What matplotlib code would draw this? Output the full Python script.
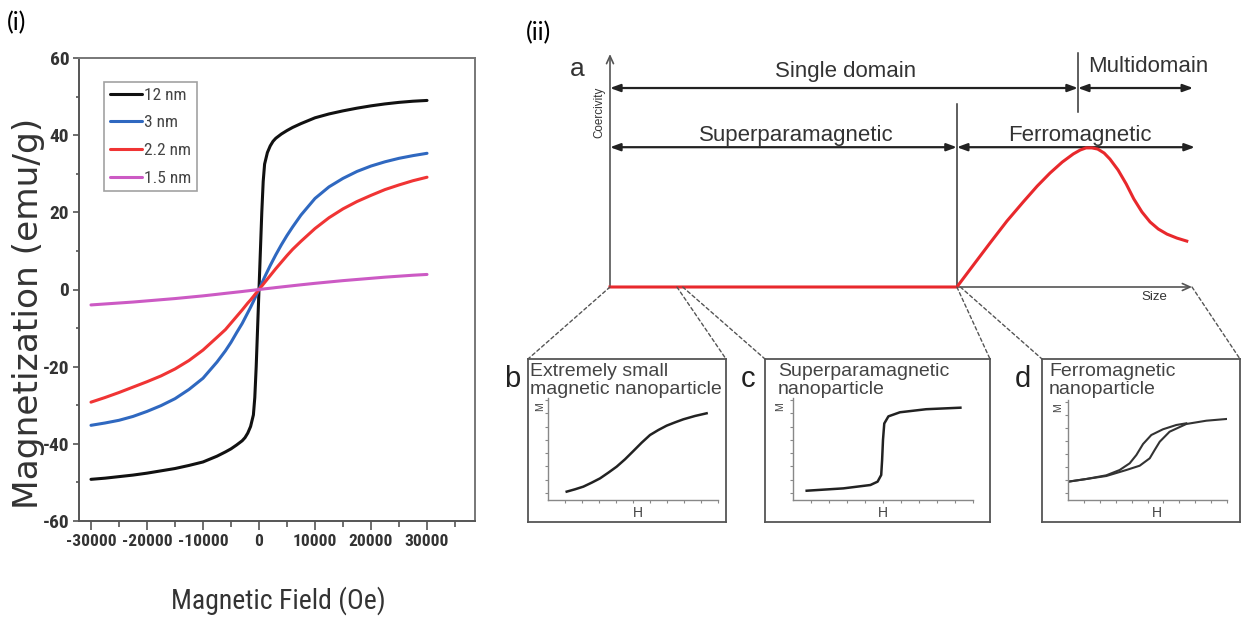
import numpy as np
import matplotlib
matplotlib.use("Agg")
import matplotlib.pyplot as plt
from matplotlib import font_manager as fm
from matplotlib.font_manager import FontProperties
from matplotlib.textpath import TextPath
from matplotlib.patches import ConnectionPatch
from matplotlib.ticker import MultipleLocator

plt.rcParams["axes.unicode_minus"] = False

# ---------------- (i) magnetization vs field ----------------
field_oe = [-30000, -27500, -25000, -22500, -20000, -17500, -15000, -12500, -10000,
            -7500, -6000, -5000, -4000, -3000, -2500, -2000, -1500, -1000, -750, -500,
            -250, 0, 250, 500, 750, 1000, 1500, 2000, 2500, 3000, 4000, 5000, 6000,
            7500, 10000, 12500, 15000, 17500, 20000, 22500, 25000, 27500, 30000]
m_12nm = [-49.2, -48.9, -48.5, -48.1, -47.6, -47.0, -46.4, -45.6, -44.7,
          -43.2, -42.1, -41.3, -40.3, -39.2, -38.4, -37.2, -35.5, -32.5, -28.0, -20.0,
          -10.0, 0.0, 10.0, 20.0, 28.0, 32.5, 35.5, 37.2, 38.4, 39.2, 40.3, 41.2, 42.0,
          43.0, 44.5, 45.5, 46.3, 47.0, 47.6, 48.1, 48.5, 48.8, 49.0]
m_3nm = [-35.2, -34.6, -33.9, -32.9, -31.6, -30.1, -28.3, -25.9, -23.0,
         -18.8, -15.9, -13.7, -11.2, -8.8, -7.4, -6.0, -4.6, -3.1, -2.3, -1.5,
         -0.8, 0.0, 0.8, 1.6, 2.4, 3.2, 4.7, 6.2, 7.6, 9.0, 11.6, 14.0, 16.2,
         19.3, 23.6, 26.6, 28.8, 30.6, 32.0, 33.1, 34.0, 34.7, 35.3]
m_2p2nm = [-29.2, -28.0, -26.7, -25.3, -23.9, -22.4, -20.6, -18.4, -15.7,
           -12.4, -10.4, -8.7, -7.0, -5.3, -4.4, -3.5, -2.7, -1.8, -1.35, -0.9,
           -0.45, 0.0, 0.45, 0.9, 1.35, 1.8, 2.7, 3.6, 4.5, 5.4, 7.1, 8.8, 10.4,
           12.5, 15.8, 18.6, 20.9, 22.8, 24.4, 25.9, 27.1, 28.2, 29.1]
m_1p5nm = [-4.0, -3.75, -3.5, -3.25, -2.95, -2.65, -2.35, -2.0, -1.65,
           -1.25, -1.0, -0.84, -0.68, -0.52, -0.43, -0.35, -0.26, -0.18, -0.13, -0.09,
           -0.04, 0.0, 0.04, 0.08, 0.12, 0.17, 0.25, 0.33, 0.41, 0.5, 0.66, 0.82, 0.98,
           1.22, 1.6, 1.95, 2.3, 2.6, 2.9, 3.2, 3.45, 3.7, 3.9]
series_labels = ["12 nm", "3 nm", "2.2 nm", "1.5 nm"]
series_colors = ["#111111", "#2f68c0", "#f03434", "#cc5ac4"]

# ---------------- (ii a) coercivity vs particle size ----------------
size_axis = [0, 59.6, 62.7, 65.3, 68.2, 71.0, 73.4, 75.6, 77.7, 79.6, 80.8, 81.8,
             82.8, 83.8, 84.9, 85.9, 87.3, 88.7, 90.0, 91.4, 92.8, 94.2, 95.7, 97.4, 99.1]
coercivity = [0, 0, 10.3, 18.9, 28.3, 36.5, 43.3, 48.9, 53.6, 57.1, 58.8, 59.7,
              59.7, 59.2, 57.5, 54.9, 50.2, 44.2, 37.8, 32.2, 27.9, 24.9, 22.7, 21.0, 19.7]
sp_limit = 59.6     # superparamagnetic / ferromagnetic boundary
sd_limit = 80.4     # single domain / multidomain boundary

# ---------------- (ii b-d) M-H sketches ----------------
h_small = [1.10, 1.59, 2.08, 2.57, 3.06, 3.55, 4.04, 4.53, 5.02, 5.51, 6.00, 6.49,
           6.98, 7.47, 7.96, 8.65, 9.33]
m_small = [0.82, 1.05, 1.31, 1.70, 2.12, 2.68, 3.27, 3.99, 4.80, 5.62, 6.37, 6.86,
           7.29, 7.61, 7.91, 8.24, 8.50]
h_spm = [0.76, 2.8, 4.3, 4.7, 4.9, 4.95, 5.0, 5.07, 5.3, 5.94, 7.4, 9.3]
m_spm = [0.91, 1.14, 1.47, 1.8, 2.45, 3.9, 5.9, 7.5, 8.2, 8.6, 8.9, 9.05]
h_fm_up = [0, 1.15, 2.41, 3.67, 4.51, 5.14, 5.45, 5.77, 6.39, 7.44, 8.7, 9.96]
m_fm_up = [1.83, 2.1, 2.4, 3.0, 3.43, 4.17, 5.0, 5.83, 6.83, 7.6, 7.93, 8.1]
h_fm_down = [0, 1.15, 2.41, 3.25, 3.88, 4.3, 4.72, 5.24, 5.97, 6.81, 7.44]
m_fm_down = [1.83, 2.1, 2.47, 3.0, 3.67, 4.5, 5.6, 6.5, 7.07, 7.5, 7.67]

# ---------------- fonts ----------------
installed = {f.name for f in fm.fontManager.ttflist}
SANS = "Liberation Sans" if "Liberation Sans" in installed else "DejaVu Sans"
WIDE = "DejaVu Sans"
LABEL = "Lato" if "Lato" in installed else SANS

if "Liberation Sans Narrow" in installed:
    NARROW = "Liberation Sans Narrow"
    xtick_size, ytick_size, xlabel_size, legend_size = 13, 14.5, 21, 12.5
elif "Roboto Condensed" in installed:
    NARROW = "Roboto Condensed"
    xtick_size, ytick_size, xlabel_size, legend_size = 12.5, 14, 20, 12.5
else:
    NARROW = SANS
    xtick_size, ytick_size, xlabel_size, legend_size = 11, 12.5, 17.5, 11


def width10(fp, s):
    return TextPath((0, 0), s, size=10, prop=fp).get_extents().width


# y label sized to run along most of the frame height
ylabel_size = min(25, 385 * 0.72 / (width10(FontProperties(family=WIDE),
                                            "Magnetization (emu/g)") / 10.0))

W, H = 1242, 619
fig = plt.figure(figsize=(W / 100, H / 100), dpi=100)
fig.patch.set_facecolor("white")


def px_rect(left, top, right, bottom):
    return [left / W, 1 - bottom / H, (right - left) / W, (bottom - top) / H]


def fx(px):
    return px / W


def fy(py):
    return 1 - py / H


fig.text(fx(7), fy(23), "(i)", fontsize=18, family=LABEL, va="center", ha="left")
fig.text(fx(526), fy(33), "(ii)", fontsize=18, family=LABEL, va="center", ha="left")

# ---- panel (i)
ax = fig.add_axes(px_rect(79, 58, 475, 521))
curves = [m_12nm, m_3nm, m_2p2nm, m_1p5nm]
for m, lab, col in zip(curves, series_labels, series_colors):
    ax.plot(field_oe, m, color=col, lw=2.2, label=lab, solid_capstyle="round",
            solid_joinstyle="round")
ax.set_xlim(-32140, 38570)
ax.set_ylim(-60, 60)
ax.xaxis.set_minor_locator(MultipleLocator(5000))
ax.yaxis.set_major_locator(MultipleLocator(20))
ax.yaxis.set_minor_locator(MultipleLocator(10))
ax.set_xticks([-30000, -20000, -10000, 0, 10000, 20000, 30000])
for s in ax.spines.values():
    s.set_color("#777777")
    s.set_linewidth(1.4)
ax.spines["left"].set_color("#555555")
ax.spines["bottom"].set_color("#555555")
ax.tick_params(axis="x", which="major", direction="out", length=6.5, width=1.2,
               color="#555555", pad=2.5)
ax.tick_params(axis="x", which="minor", direction="out", length=4, width=1.2,
               color="#555555")
ax.tick_params(axis="y", which="major", direction="out", length=4, width=1.2,
               color="#555555", pad=3)
ax.tick_params(axis="y", which="minor", direction="out", length=2, width=1.2,
               color="#555555")
for t in ax.get_xticklabels():
    t.set_family(NARROW)
    t.set_fontsize(xtick_size)
    t.set_fontweight("bold")
    t.set_color("#333333")
for t in ax.get_yticklabels():
    t.set_family(NARROW)
    t.set_fontsize(ytick_size)
    t.set_fontweight("bold")
    t.set_color("#333333")
ax.set_xlabel("Magnetic Field (Oe)", family=NARROW, fontsize=xlabel_size,
              color="#333333", va="center")
ax.xaxis.set_label_coords(0.503, -0.171)
ax.set_ylabel("Magnetization (emu/g)", family=WIDE, fontsize=ylabel_size,
              color="#333333", va="center")
ax.yaxis.set_label_coords(-0.127, 0.449)
leg = ax.legend(loc="upper left", bbox_to_anchor=(0.063, 0.948), borderaxespad=0,
                frameon=True, fancybox=False, handlelength=1.9, handletextpad=0.1,
                labelspacing=0.72, borderpad=0.32,
                prop={"family": NARROW, "size": legend_size})
leg.get_frame().set_edgecolor("#8a8a8a")
leg.get_frame().set_linewidth(1.2)
for t in leg.get_texts():
    t.set_color("#444444")

# ---- panel (ii a)
ax_a = fig.add_axes(px_rect(610, 54, 1192, 287))
ax_a.set_xlim(0, 100)
ax_a.set_ylim(0, 100)
ax_a.axis("off")

axis_style = dict(arrowstyle="->,head_length=0.55,head_width=0.25", color="#555555",
                  lw=1.2, shrinkA=0, shrinkB=0)
ax_a.annotate("", xy=(0, 100), xytext=(0, 0), arrowprops=axis_style,
              annotation_clip=False)
ax_a.annotate("", xy=(100, 0), xytext=(0, 0), arrowprops=axis_style,
              annotation_clip=False)

span_style = dict(arrowstyle="<|-|>,head_length=0.6,head_width=0.22", color="#222222",
                  lw=1.6, shrinkA=0, shrinkB=0)
y_domain, y_magnet = 85.4, 60.0
spans = [(0, sd_limit, y_domain), (sd_limit, 100.2, y_domain),
         (0, sp_limit, y_magnet), (sp_limit, 100.5, y_magnet)]
for x0, x1, yy in spans:
    ax_a.annotate("", xy=(x1, yy), xytext=(x0, yy), arrowprops=span_style,
                  annotation_clip=False)

ax_a.plot([sp_limit, sp_limit], [0, 78.5], color="#333333", lw=1.1, clip_on=False)
ax_a.plot([sd_limit, sd_limit], [75.0, 100.4], color="#333333", lw=1.1, clip_on=False)
ax_a.plot(size_axis, coercivity, color="#e8282c", lw=2.2, clip_on=False, zorder=5,
          solid_joinstyle="round")

txt = dict(family=SANS, color="#333333", ha="center", va="center")
ax_a.text(40.4, 92.3, "Single domain", fontsize=16, **txt)
ax_a.text(92.4, 94.8, "Multidomain", fontsize=16, **txt)
ax_a.text(32.0, 65.2, "Superparamagnetic", fontsize=16, **txt)
ax_a.text(80.8, 65.2, "Ferromagnetic", fontsize=16, **txt)
ax_a.text(93.5, -4.3, "Size", fontsize=9.5, **txt)
ax_a.text(-1.9, 75.1, "Coercivity", fontsize=8.4, rotation=90, **txt)
ax_a.text(-5.7, 93.6, "a", fontsize=19, **txt)

# ---- panels (ii b-d)
boxes = [px_rect(528, 359, 726, 522), px_rect(765, 359, 990, 522),
         px_rect(1042, 359, 1240, 522)]
inners = [px_rect(548, 398, 718, 500), px_rect(793, 398, 973, 500),
          px_rect(1068, 400, 1227, 500)]
titles = [("Extremely small", "magnetic nanoparticle"),
          ("Superparamagnetic", "nanoparticle"),
          ("Ferromagnetic", "nanoparticle")]
title_x = [530, 778, 1049]
letters = ["b", "c", "d"]
letter_x = [512, 748, 1023]
m_pos = [(540, 407), (780, 407), (1058, 408)]
h_pos = [(638, 513), (883, 513), (1157, 513)]

box_axes = []
for i in range(3):
    bx = fig.add_axes(boxes[i])
    bx.set_xticks([])
    bx.set_yticks([])
    for s in bx.spines.values():
        s.set_color("#555555")
        s.set_linewidth(1.3)
    box_axes.append(bx)
    for line, yy in zip(titles[i], (372, 390)):
        fig.text(fx(title_x[i]), fy(yy), line, family=SANS, fontsize=14,
                 color="#444444", ha="left", va="center")
    fig.text(fx(letter_x[i]), fy(387), letters[i], family=SANS, fontsize=21,
             color="#222222", ha="center", va="baseline")
    fig.text(fx(m_pos[i][0]), fy(m_pos[i][1]), "M", family=SANS, fontsize=7.5,
             color="#444444", ha="center", va="center", rotation=90)
    fig.text(fx(h_pos[i][0]), fy(h_pos[i][1]), "H", family=SANS, fontsize=10,
             color="#444444", ha="center", va="center")

    ia = fig.add_axes(inners[i])
    ia.set_xlim(0, 10)
    ia.set_ylim(0, 10)
    ia.patch.set_alpha(0)
    for side in ("top", "right"):
        ia.spines[side].set_visible(False)
    for side in ("left", "bottom"):
        ia.spines[side].set_color("#888888")
        ia.spines[side].set_linewidth(1.0)
    ia.set_xticks(np.arange(1, 10.5, 1))
    ia.set_yticks(np.arange(0.7, 10, 1.3))
    ia.tick_params(direction="out", length=2, width=0.8, color="#888888",
                   labelbottom=False, labelleft=False)
    if i == 0:
        ia.plot(h_small, m_small, color="#222222", lw=1.8, solid_joinstyle="round")
    elif i == 1:
        ia.plot(h_spm, m_spm, color="#222222", lw=1.8, solid_joinstyle="round")
    else:
        ia.plot(h_fm_up, m_fm_up, color="#333333", lw=1.5, solid_joinstyle="round")
        ia.plot(h_fm_down, m_fm_down, color="#333333", lw=1.5, solid_joinstyle="round")

# dashed zoom guides from the size axis to the sketches
dash = dict(linestyle=(0, (2.5, 2)), color="#555555", lw=1.0)
guides = [((0, 0), 0, (0, 1)), ((11.5, 0), 0, (1, 1)), ((12.5, 0), 1, (0, 1)),
          ((sp_limit, 0), 1, (1, 1)), ((sp_limit + 0.6, 0), 2, (0, 1)),
          ((100, 0), 2, (1, 1))]
for xy_a, k, xy_b in guides:
    con = ConnectionPatch(xyA=xy_a, coordsA=ax_a.transData, xyB=xy_b,
                          coordsB=box_axes[k].transAxes, **dash)
    fig.add_artist(con)

fig.savefig("out.png", dpi=100, facecolor="white")
